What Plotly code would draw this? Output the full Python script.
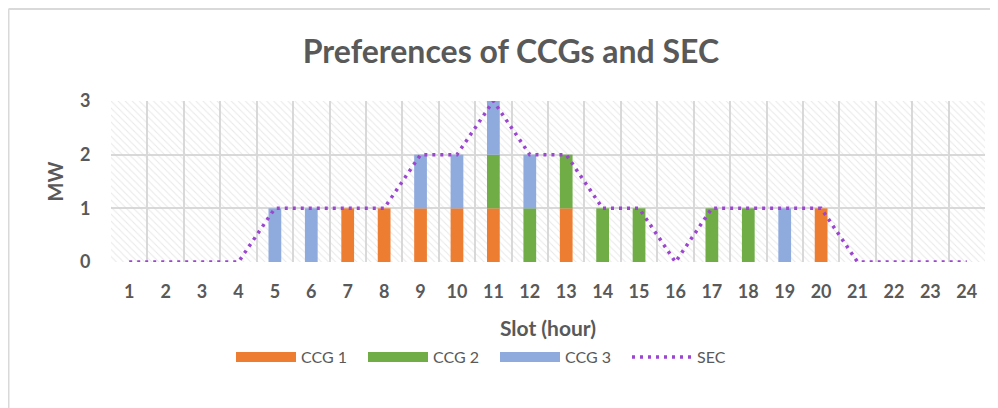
import plotly.graph_objects as go

slots = list(range(1, 25))
ccg1 = [0,0,0,0,0,0,1,1,1,1,1,0,1,0,0,0,0,0,0,1,0,0,0,0]
ccg2 = [0,0,0,0,0,0,0,0,0,0,1,1,1,1,1,0,1,1,0,0,0,0,0,0]
ccg3 = [0,0,0,0,1,1,0,0,1,1,1,1,0,0,0,0,0,0,1,0,0,0,0,0]
sec  = [0,0,0,0,1,1,1,1,2,2,3,2,2,1,1,0,1,1,1,1,0,0,0,0]
ymax = 3

base2 = ccg1
base3 = [a + b for a, b in zip(ccg1, ccg2)]

txt = "#595959"
grid = "#d9d9d9"
font = "Lato"
c1, c2, c3, csec = "#ed7d31", "#70ad47", "#8faadc", "#9b45d0"

W, H = 990, 400
L, R, T, B = 103, 13, 93, 146
pw, ph = W - L - R, H - T - B

fig = go.Figure()
# hatched plot-area background
fig.add_trace(go.Bar(x=slots, y=[ymax]*len(slots), width=1, base=0,
                     marker=dict(color="rgba(255,255,255,0)", line=dict(width=0),
                                 pattern=dict(shape="\\", fgcolor="#d2d2d2", size=5, solidity=0.2,
                                              bgcolor="rgba(255,255,255,0)")),
                     showlegend=False, hoverinfo="skip"))
fig.add_trace(go.Bar(x=slots, y=ccg1, base=0, width=0.35, name="CCG 1", legendgroup="c1",
                     showlegend=False, marker=dict(color=c1, line=dict(width=0))))
fig.add_trace(go.Bar(x=slots, y=ccg2, base=base2, width=0.35, name="CCG 2", legendgroup="c2",
                     showlegend=False, marker=dict(color=c2, line=dict(width=0))))
fig.add_trace(go.Bar(x=slots, y=ccg3, base=base3, width=0.35, name="CCG 3", legendgroup="c3",
                     showlegend=False, marker=dict(color=c3, line=dict(width=0))))
fig.add_trace(go.Scatter(x=slots, y=sec, mode="lines", name="SEC", legendgroup="sec",
                         showlegend=False,
                         line=dict(color=csec, width=3.5, dash="3px,5px")))
# legend entries (wide swatches like the original)
for nm, col, grp in [("CCG 1", c1, "c1"), ("CCG 2", c2, "c2"), ("CCG 3", c3, "c3")]:
    fig.add_trace(go.Scatter(x=[None], y=[None], mode="lines", name=nm, legendgroup=grp,
                             line=dict(color=col, width=12)))
fig.add_trace(go.Scatter(x=[None], y=[None], mode="lines", name="SEC", legendgroup="sec",
                         line=dict(color=csec, width=3.5, dash="3px,5px")))

fig.update_layout(
    width=W, height=H,
    margin=dict(l=L, r=R, t=T, b=B, autoexpand=False),
    paper_bgcolor="white", plot_bgcolor="white",
    barmode="overlay",
    title=dict(text="<b>Preferences of CCGs and SEC</b>", x=(511-8)/W, xanchor="center",
               y=1-(52-8)/H, yanchor="middle", font=dict(family=font, size=32, color=txt)),
    font=dict(family=font, color=txt),
    legend=dict(orientation="h", x=(231-8-L)/pw, xanchor="left", y=(T+ph-(357-8))/ph,
                yanchor="middle", font=dict(family=font, size=16, color=txt),
                itemwidth=60, entrywidth=57, entrywidthmode="pixels", traceorder="normal"),
    showlegend=True,
)
fig.update_xaxes(range=[0.5, 24.5], tickmode="array", tickvals=slots,
                 ticktext=["<b>%d</b>" % s for s in slots], showgrid=False, zeroline=False,
                 ticks="outside", ticklen=13, tickcolor="rgba(0,0,0,0)",
                 tickfont=dict(family=font, size=18, color=txt),
                 minor=dict(tick0=0.5, dtick=1, showgrid=True, gridcolor=grid, gridwidth=1.5),
                 showline=False,
                 title=dict(text="<b>Slot (hour)</b>", font=dict(family=font, size=21, color=txt), standoff=20))
fig.update_yaxes(range=[0, ymax], tickvals=[0, 1, 2, 3], ticktext=["<b>%d</b>" % v for v in [0, 1, 2, 3]],
                 showgrid=True, gridcolor=grid, gridwidth=1.5,
                 zeroline=False, ticks="outside", ticklen=16, tickcolor="rgba(0,0,0,0)",
                 tickfont=dict(family=font, size=18, color=txt),
                 title=dict(text="<b>MW</b>", font=dict(family=font, size=20, color=txt), standoff=10))

# chart frame lines (top and left)
fig.add_shape(type="line", xref="paper", yref="paper", x0=(0.5-L)/pw, x1=(W-L)/pw,
              y0=1+(T-1)/ph, y1=1+(T-1)/ph, line=dict(color="#d9d9d9", width=2), layer="below")
fig.add_shape(type="line", xref="paper", yref="paper", x0=(0.5-L)/pw, x1=(0.5-L)/pw,
              y0=1+(T-1)/ph, y1=-B/ph, line=dict(color="#d9d9d9", width=2), layer="below")

fig.write_html("out.html")
